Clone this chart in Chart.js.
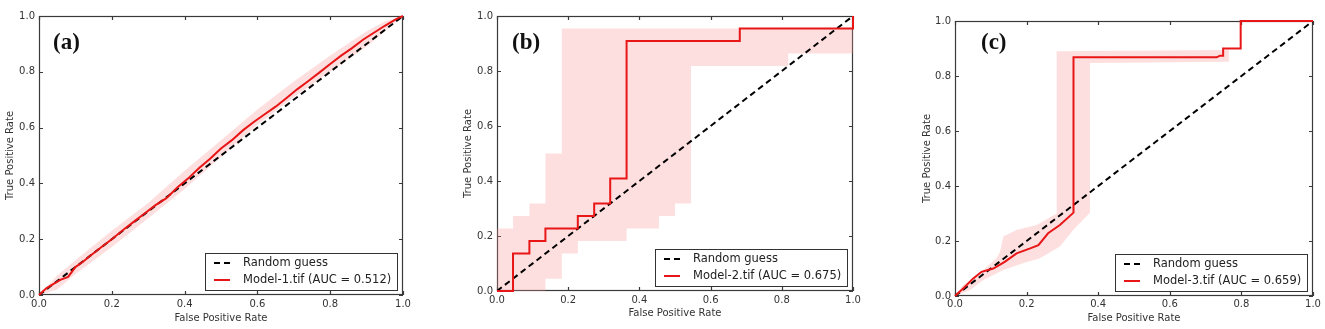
<!doctype html>
<html lang="en">
<head>
<meta charset="utf-8">
<title>ROC curves</title>
<script src="https://cdn.jsdelivr.net/npm/chart.js"></script>
<style>
  body { margin: 0; background: #fff; }
  .panel { position: absolute; top: 0; }
</style>
</head>
<body>
<canvas id="rocA" class="panel" width="440" height="329" style="left:0px"></canvas>
<canvas id="rocB" class="panel" width="440" height="329" style="left:440px"></canvas>
<canvas id="rocC" class="panel" width="440" height="329" style="left:885px"></canvas>
<script>
// shared axis ticks
const tickValues = [0, 0.2, 0.4, 0.6, 0.8, 1.0];
const tickLabels = ['0.0', '0.2', '0.4', '0.6', '0.8', '1.0'];
const guessX = [0, 1];
const guessY = [0, 1];

// (a) Model-1
const rocAx = [0, 0.02, 0.04, 0.06, 0.08, 0.1, 0.12, 0.14, 0.17, 0.2, 0.23, 0.26, 0.29, 0.32, 0.35, 0.38, 0.41, 0.44, 0.47, 0.5, 0.53, 0.56, 0.59, 0.62, 0.65, 0.68, 0.71, 0.74, 0.77, 0.8, 0.83, 0.86, 0.89, 0.92, 0.95, 0.98, 1.0];
const rocAy = [0, 0.024, 0.04, 0.055, 0.065, 0.1, 0.118, 0.14, 0.17, 0.2, 0.232, 0.262, 0.292, 0.322, 0.347, 0.385, 0.418, 0.455, 0.488, 0.525, 0.555, 0.59, 0.62, 0.648, 0.675, 0.706, 0.738, 0.767, 0.797, 0.828, 0.858, 0.885, 0.915, 0.94, 0.965, 0.988, 1.0];
const bandAx = [0, 0.05, 0.1, 0.2, 0.3, 0.4, 0.5, 0.6, 0.7, 0.8, 0.9, 0.95, 1.0];
const bandAUp = [0, 0.07, 0.125, 0.23, 0.33, 0.445, 0.555, 0.665, 0.765, 0.858, 0.945, 0.98, 1.0];
const bandALo = [0, 0.02, 0.075, 0.172, 0.275, 0.38, 0.495, 0.61, 0.71, 0.8, 0.89, 0.945, 1.0];

// (b) Model-2 (step curves)
const rocBx = [0, 0.045, 0.091, 0.136, 0.227, 0.273, 0.318, 0.364, 0.682, 1.0];
const rocBy = [0, 0.136, 0.182, 0.227, 0.273, 0.318, 0.409, 0.909, 0.955, 1.0];
const bandBUpX = [0, 0.045, 0.091, 0.136, 0.182, 1.0];
const bandBUpY = [0.227, 0.273, 0.318, 0.5, 0.955, 0.955];
const bandBLoX = [0, 0.136, 0.182, 0.227, 0.364, 0.455, 0.5, 0.545, 0.818, 1.0];
const bandBLoY = [0, 0.045, 0.136, 0.182, 0.227, 0.273, 0.318, 0.818, 0.864, 0.864];

// (c) Model-3
const rocCx = [0, 0.025, 0.051, 0.074, 0.107, 0.14, 0.172, 0.21, 0.233, 0.26, 0.293, 0.331, 0.331, 0.731, 0.74, 0.749, 0.749, 0.798, 0.798, 1.0];
const rocCy = [0, 0.03, 0.064, 0.088, 0.1, 0.125, 0.155, 0.173, 0.185, 0.228, 0.258, 0.303, 0.868, 0.868, 0.874, 0.874, 0.9, 0.9, 1.0, 1.0];
const bandCUpX = [0, 0.023, 0.079, 0.116, 0.126, 0.135, 0.172, 0.228, 0.284, 0.284, 0.765, 0.765, 0.798, 0.798, 1.0];
const bandCUpY = [0, 0.04, 0.095, 0.137, 0.161, 0.216, 0.24, 0.258, 0.3, 0.89, 0.895, 0.9, 0.9, 1.0, 1.0];
const bandCLoX = [0, 0.042, 0.079, 0.135, 0.19, 0.237, 0.293, 0.33, 0.377, 0.377, 0.765, 0.765, 0.798, 0.798, 1.0];
const bandCLoY = [0, 0.022, 0.058, 0.095, 0.119, 0.137, 0.18, 0.24, 0.303, 0.847, 0.852, 0.9, 0.9, 1.0, 1.0];

const RED = 'rgb(232, 22, 22)';
const BAND = 'rgba(250, 140, 140, 0.28)';
const FONT = '"DejaVu Sans", sans-serif';

function pts(xs, ys) { return xs.map((x, i) => ({ x: x, y: ys[i] })); }

// frame with inward tick marks on all four sides (matplotlib classic look)
const framePlugin = {
  id: 'frame',
  beforeDatasetsDraw(chart) {
    const { ctx, chartArea: a, scales: { x, y } } = chart;
    ctx.save();
    ctx.strokeStyle = '#3a3a3a';
    ctx.lineWidth = 1.2;
    ctx.strokeRect(a.left + 0.5, a.top + 0.5, a.right - a.left - 1, a.bottom - a.top - 1);
    ctx.beginPath();
    tickValues.forEach(v => {
      const px = Math.round(x.getPixelForValue(v)) + 0.5;
      ctx.moveTo(px, a.bottom); ctx.lineTo(px, a.bottom - 4);
      ctx.moveTo(px, a.top); ctx.lineTo(px, a.top + 4);
      const py = Math.round(y.getPixelForValue(v)) + 0.5;
      ctx.moveTo(a.left, py); ctx.lineTo(a.left + 4, py);
      ctx.moveTo(a.right, py); ctx.lineTo(a.right - 4, py);
    });
    ctx.stroke();
    ctx.restore();
  }
};

// boxed legend in the lower right corner
const boxLegend = {
  id: 'boxLegend',
  afterDraw(chart) {
    const { ctx, chartArea: a } = chart;
    const ds = chart.data.datasets;
    const items = [ds[1], ds[0]];
    ctx.save();
    ctx.font = '11.5px ' + FONT;
    const textW = Math.max(...items.map(d => ctx.measureText(d.label).width));
    const w = Math.round(38 + textW + 6), h = 37;
    const x0 = Math.round(a.right - 6 - w), y0 = Math.round(a.bottom - 5 - h);
    ctx.fillStyle = '#fff';
    ctx.fillRect(x0, y0, w, h);
    ctx.strokeStyle = '#333';
    ctx.lineWidth = 1;
    ctx.strokeRect(x0 + 0.5, y0 + 0.5, w, h);
    items.forEach((d, i) => {
      const cy = y0 + 10 + i * 17;
      ctx.strokeStyle = d.borderColor;
      ctx.lineWidth = d.borderWidth;
      ctx.setLineDash(d.borderDash || []);
      ctx.beginPath(); ctx.moveTo(x0 + 9, cy); ctx.lineTo(x0 + 25, cy); ctx.stroke();
      ctx.setLineDash([]);
      ctx.fillStyle = '#222';
      ctx.textBaseline = 'middle';
      ctx.fillText(d.label, x0 + 38, cy);
    });
    ctx.restore();
  }
};

const panelLabel = {
  id: 'panelLabel',
  afterDraw(chart, args, o) {
    const { ctx, chartArea: a } = chart;
    ctx.save();
    ctx.font = 'bold 23px "Liberation Serif", serif';
    ctx.fillStyle = '#111';
    ctx.textBaseline = 'middle';
    ctx.fillText(o.text, a.left + o.dx, a.top + o.dy);
    ctx.restore();
  }
};

function axis(title, pad) {
  return {
    type: 'linear', min: 0, max: 1,
    afterBuildTicks: s => { s.ticks = tickValues.map(v => ({ value: v })); },
    grid: { display: false, drawTicks: false },
    border: { display: false },
    ticks: { padding: 3, color: '#333', font: { family: FONT, size: 10 }, callback: (v, i) => tickLabels[i] },
    title: { display: true, text: title, color: '#333', font: { family: FONT, size: 10 }, padding: pad }
  };
}

function rocChart(id, p) {
  const x = axis('False Positive Rate', { top: 0, bottom: p.xTitlePad });
  x.afterFit = s => { s.height = p.xHeight; };
  x.ticks.padding = p.xTickPad;
  const y = axis('True Positive Rate', { top: p.yTitlePad, bottom: 0 });
  y.afterFit = s => { s.width = p.yWidth; };
  y.ticks.padding = 4;
  return new Chart(document.getElementById(id), {
    type: 'line',
    data: {
      datasets: [
        { label: p.label, data: pts(p.rocX, p.rocY), borderColor: RED, borderWidth: 2, stepped: p.stepped, fill: false, clip: 2 },
        { label: 'Random guess', data: pts(guessX, guessY), borderColor: '#000', borderWidth: 2, borderDash: [6, 4], fill: false },
        { data: pts(p.upX, p.upY), borderColor: 'rgba(0,0,0,0)', borderWidth: 0, backgroundColor: BAND, fill: '+1', stepped: p.stepped },
        { data: pts(p.loX, p.loY), borderColor: 'rgba(0,0,0,0)', borderWidth: 0, fill: false, stepped: p.stepped }
      ]
    },
    options: {
      responsive: false,
      animation: false,
      devicePixelRatio: 1,
      layout: { padding: { left: 0, right: p.padRight, top: p.padTop, bottom: 0 } },
      elements: { point: { radius: 0 }, line: { tension: 0 } },
      plugins: {
        legend: { display: false },
        tooltip: { enabled: false },
        panelLabel: { text: p.panel, dx: p.labelDx, dy: p.labelDy }
      },
      scales: { x: x, y: y }
    },
    plugins: [framePlugin, boxLegend, panelLabel]
  });
}

rocChart('rocA', {
  label: 'Model-1.tif (AUC = 0.512)', panel: '(a)', stepped: false,
  rocX: rocAx, rocY: rocAy, upX: bandAx, upY: bandAUp, loX: bandAx, loY: bandALo,
  padRight: 37, padTop: 16, yWidth: 39, xHeight: 34, yTitlePad: 4, xTitlePad: 5, xTickPad: 3, labelDx: 14, labelDy: 27
});
rocChart('rocB', {
  label: 'Model-2.tif (AUC = 0.675)', panel: '(b)', stepped: 'before',
  rocX: rocBx, rocY: rocBy, upX: bandBUpX, upY: bandBUpY, loX: bandBLoX, loY: bandBLoY,
  padRight: 27, padTop: 16, yWidth: 57, xHeight: 38, yTitlePad: 22, xTitlePad: 10, xTickPad: 3, labelDx: 15, labelDy: 27
});
rocChart('rocC', {
  label: 'Model-3.tif (AUC = 0.659)', panel: '(c)', stepped: false,
  rocX: rocCx, rocY: rocCy, upX: bandCUpX, upY: bandCUpY, loX: bandCLoX, loY: bandCLoY,
  padRight: 12, padTop: 21, yWidth: 70, xHeight: 33, yTitlePad: 36, xTitlePad: 5, xTickPad: 2, labelDx: 26, labelDy: 22
});
</script>
</body>
</html>
